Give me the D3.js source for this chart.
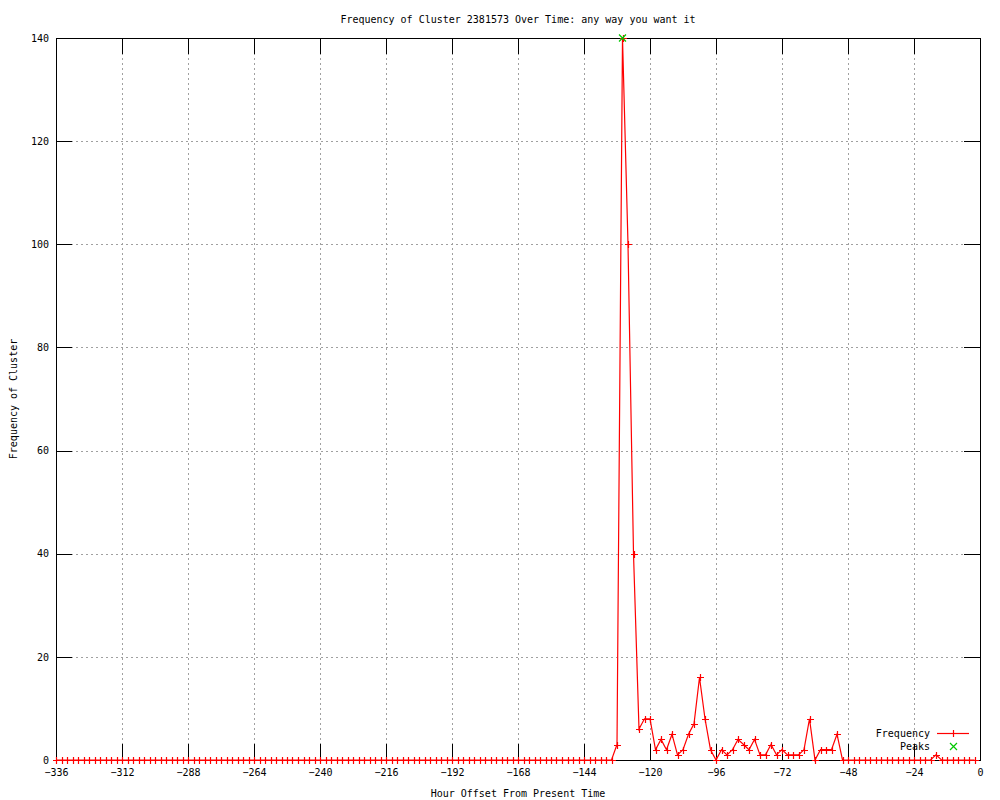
<!DOCTYPE html>
<html>
<head>
<meta charset="utf-8">
<script src="https://cdn.jsdelivr.net/npm/d3@7"></script>
<style>
  body { margin: 0; background: #fff; }
  text { font-family: "DejaVu Sans Mono", monospace; font-size: 10px; fill: #000; }
</style>
</head>
<body>
<div id="chart"></div>
<script>
// hour offsets (x) and frequency counts (y)
var hours = [
  -336,-334,-332,-330,-328,-326,-324,-322,-320,-318,-316,-314,
  -312,-310,-308,-306,-304,-302,-300,-298,-296,-294,-292,-290,
  -288,-286,-284,-282,-280,-278,-276,-274,-272,-270,-268,-266,
  -264,-262,-260,-258,-256,-254,-252,-250,-248,-246,-244,-242,
  -240,-238,-236,-234,-232,-230,-228,-226,-224,-222,-220,-218,
  -216,-214,-212,-210,-208,-206,-204,-202,-200,-198,-196,-194,
  -192,-190,-188,-186,-184,-182,-180,-178,-176,-174,-172,-170,
  -168,-166,-164,-162,-160,-158,-156,-154,-152,-150,-148,-146,
  -144,-142,-140,-138,-136,-134,-132,-130,-128,-126,-124,-122,
  -120,-118,-116,-114,-112,-110,-108,-106,-104,-102,-100,-98,
  -96,-94,-92,-90,-88,-86,-84,-82,-80,-78,-76,-74,
  -72,-70,-68,-66,-64,-62,-60,-58,-56,-54,-52,-50,
  -48,-46,-44,-42,-40,-38,-36,-34,-32,-30,-28,-26,
  -24,-22,-20,-18,-16,-14,-12,-10,-8,-6,-4,-2
];
var frequency = [
  0,0,0,0,0,0,0,0,0,0,0,0,
  0,0,0,0,0,0,0,0,0,0,0,0,
  0,0,0,0,0,0,0,0,0,0,0,0,
  0,0,0,0,0,0,0,0,0,0,0,0,
  0,0,0,0,0,0,0,0,0,0,0,0,
  0,0,0,0,0,0,0,0,0,0,0,0,
  0,0,0,0,0,0,0,0,0,0,0,0,
  0,0,0,0,0,0,0,0,0,0,0,0,
  0,0,0,0,0,0,3,140,100,40,6,8,
  8,2,4,2,5,1,2,5,7,16,8,2,
  0,2,1,2,4,3,2,4,1,1,3,1,
  2,1,1,1,2,8,0,2,2,2,5,0,
  0,0,0,0,0,0,0,0,0,0,0,0,
  0,0,0,0,1,0,0,0,0,0,0,0
];
var peakHours = [-130];
var peakValues = [140];

var xTicks = [-336,-312,-288,-264,-240,-216,-192,-168,-144,-120,-96,-72,-48,-24,0];
var yTicks = [0,20,40,60,80,100,120,140];

var title = "Frequency of Cluster 2381573 Over Time: any way you want it";
var xLabel = "Hour Offset From Present Time";
var yLabel = "Frequency of Cluster";

var margin = {top: 38, right: 20, bottom: 40, left: 56},
    width = 1000 - margin.left - margin.right,
    height = 800 - margin.top - margin.bottom;

var svg = d3.select("#chart")
  .append("svg")
    .attr("width", 1000)
    .attr("height", 800)
  .append("g")
    .attr("transform", "translate(" + margin.left + "," + margin.top + ")");

var data = hours.map(function(h, i) { return {h: h, v: frequency[i]}; });
var peaks = peakHours.map(function(h, i) { return {h: h, v: peakValues[i]}; });

var x = d3.scaleLinear().domain([-336, 0]).range([0, width]);
var y = d3.scaleLinear().domain([0, 140]).range([height, 0]);

// grid
var grid = svg.append("g")
  .attr("stroke", "#a0a0a0")
  .attr("stroke-dasharray", "2,3")
  .attr("shape-rendering", "crispEdges");
grid.selectAll(".gx")
  .data(xTicks.slice(1, -1))
  .enter().append("line")
    .attr("x1", function(d) { return Math.round(x(d)) + 0.5; })
    .attr("x2", function(d) { return Math.round(x(d)) + 0.5; })
    .attr("y1", 0)
    .attr("y2", height);
grid.selectAll(".gy")
  .data(yTicks.slice(1, -1))
  .enter().append("line")
    .attr("y1", function(d) { return Math.round(y(d)) + 0.5; })
    .attr("y2", function(d) { return Math.round(y(d)) + 0.5; })
    .attr("x1", 0)
    .attr("x2", width);

// axes, ticks pointing inward
function styleAxis(g) {
  g.select(".domain").remove();
  g.selectAll("line").attr("stroke", "#000").attr("shape-rendering", "crispEdges");
  g.selectAll("text").style("font-family", "DejaVu Sans Mono, monospace").style("font-size", "10px");
}

svg.append("g")
  .attr("transform", "translate(0," + height + ")")
  .call(d3.axisBottom(x).tickValues(xTicks).tickSize(-16).tickPadding(9))
  .call(styleAxis);
svg.append("g")
  .call(d3.axisTop(x).tickValues(xTicks).tickSize(-16).tickFormat(""))
  .call(styleAxis);
svg.append("g")
  .call(d3.axisLeft(y).tickValues(yTicks).tickSize(-16).tickPadding(7))
  .call(styleAxis);
svg.append("g")
  .attr("transform", "translate(" + width + ",0)")
  .call(d3.axisRight(y).tickValues(yTicks).tickSize(-16).tickFormat(""))
  .call(styleAxis);

// border
svg.append("rect")
  .attr("x", 0.5)
  .attr("y", 0.5)
  .attr("width", width)
  .attr("height", height)
  .attr("fill", "none")
  .attr("stroke", "#000")
  .attr("shape-rendering", "crispEdges");

// frequency line
var line = d3.line()
  .x(function(d) { return x(d.h); })
  .y(function(d) { return y(d.v); });

svg.append("path")
  .datum(data)
  .attr("fill", "none")
  .attr("stroke", "#ff0000")
  .attr("stroke-width", 1.2)
  .attr("d", line);

function plus(sel, cx, cy) {
  sel.append("path")
    .attr("d", function(d) {
      var px = Math.round(cx(d)) + 0.5, py = Math.round(cy(d)) + 0.5;
      return "M" + (px - 3.5) + "," + py + "H" + (px + 3.5) + "M" + px + "," + (py - 3.5) + "V" + (py + 3.5);
    })
    .attr("fill", "none")
    .style("stroke", "#ff0000")
    .style("stroke-width", "1.2px");
}
function cross(sel, cx, cy) {
  sel.append("path")
    .attr("d", function(d) {
      var px = cx(d), py = cy(d);
      return "M" + (px - 3.5) + "," + (py - 3.5) + "L" + (px + 3.5) + "," + (py + 3.5) +
             "M" + (px - 3.5) + "," + (py + 3.5) + "L" + (px + 3.5) + "," + (py - 3.5);
    })
    .attr("fill", "none")
    .style("stroke", "#00c800")
    .style("stroke-width", "1.2px");
}

svg.append("g").selectAll("g")
  .data(data)
  .enter().append("g")
  .call(plus, function(d) { return x(d.h); }, function(d) { return y(d.v); });

svg.append("g").selectAll("g")
  .data(peaks)
  .enter().append("g")
  .call(cross, function(d) { return x(d.h); }, function(d) { return y(d.v); });

// legend
var legend = svg.append("g")
  .attr("transform", "translate(" + (width - 50) + "," + (height - 27) + ")");
legend.append("text")
  .attr("x", 0)
  .attr("y", 4)
  .attr("text-anchor", "end")
  .text("Frequency");
legend.append("path")
  .attr("d", "M7,0.5H39")
  .attr("fill", "none")
  .style("stroke", "#ff0000")
  .style("stroke-width", "1.2px");
legend.append("g").datum({h: 23, v: 0})
  .call(plus, function(d) { return d.h; }, function(d) { return d.v; });
legend.append("text")
  .attr("x", 0)
  .attr("y", 17)
  .attr("text-anchor", "end")
  .text("Peaks");
legend.append("g").datum({h: 23.5, v: 13.5})
  .call(cross, function(d) { return d.h; }, function(d) { return d.v; });

// titles
svg.append("text")
  .attr("x", width / 2)
  .attr("y", -15)
  .attr("text-anchor", "middle")
  .text(title);
svg.append("text")
  .attr("x", width / 2)
  .attr("y", height + 37)
  .attr("text-anchor", "middle")
  .text(xLabel);
svg.append("text")
  .attr("transform", "translate(-39," + (height / 2) + ") rotate(-90)")
  .attr("text-anchor", "middle")
  .text(yLabel);
</script>
</body>
</html>
